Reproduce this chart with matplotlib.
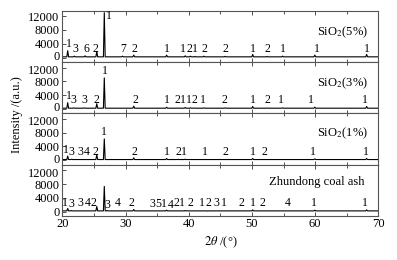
import matplotlib
matplotlib.use("Agg")
import matplotlib.pyplot as plt
import matplotlib.transforms as mtransforms
from matplotlib.ticker import MultipleLocator

plt.rcParams['font.family'] = ['Liberation Serif', 'DejaVu Serif']
plt.rcParams['mathtext.fontset'] = 'stix'

# ---- data (2theta in degrees, intensity in counts) ----
panel_names = ["SiO$_2$(5%)", "SiO$_2$(3%)", "SiO$_2$(1%)", "Zhundong coal ash"]
y_ticks = [0, 4000, 8000, 12000]
y_tick_labels = ["0", "4000", "8000", "12000"]

p1_pos = [20.85, 21.9, 23.6, 25.45, 26.64, 29.5, 31.3, 36.5, 39.45, 40.25, 40.95, 42.4, 45.75, 50.12, 52.4, 54.85, 59.95, 68.15]
p1_int = [2000, 400, 500, 1800, 13000, 400, 700, 700, 500, 400, 300, 400, 350, 900, 300, 400, 700, 900]
p1_lab = ["1", "3", "6", "2", "1", "7", "2", "1", "1", "2", "1", "2", "2", "1", "2", "1", "1", "1"]
p1_lx = [21.05, 22.0, 23.8, 25.3, 27.35, 29.6, 31.4, 36.5, 39.15, 40.05, 40.95, 42.5, 45.8, 50.2, 52.5, 54.9, 60.2, 68.2]
p1_ly = [2200, 700, 700, 700, 10300, 700, 700, 700, 700, 700, 700, 700, 700, 700, 700, 700, 700, 700]

p2_pos = [20.85, 21.8, 23.5, 25.45, 26.64, 31.3, 36.5, 38.3, 39.45, 40.3, 40.9, 42.45, 45.8, 50.12, 52.4, 54.85, 59.95, 68.15]
p2_int = [1800, 300, 300, 1500, 9000, 800, 500, 250, 400, 300, 250, 300, 300, 700, 250, 300, 500, 700]
p2_lab = ["1", "3", "3", "2", "1", "2", "1", "2", "1", "1", "2", "1", "2", "1", "2", "1", "1", "1"]
p2_lx = [21.0, 21.8, 23.5, 25.4, 26.7, 31.5, 36.5, 38.2, 39.15, 40.05, 40.95, 42.2, 45.6, 50.2, 52.5, 54.6, 59.4, 67.8]
p2_ly = [2000, 700, 700, 700, 9200, 700, 700, 700, 700, 700, 700, 700, 700, 700, 700, 700, 700, 700]

p3_pos = [20.85, 21.5, 23.0, 24.0, 25.45, 26.64, 31.3, 36.5, 38.3, 39.45, 42.45, 45.8, 50.12, 52.0, 59.95, 68.15]
p3_int = [1200, 300, 200, 200, 1600, 6200, 700, 500, 250, 300, 200, 200, 500, 200, 400, 500]
p3_lab = ["1", "3", "3", "4", "2", "1", "2", "1", "2", "1", "1", "2", "1", "2", "1", "1"]
p3_lx = [20.6, 21.5, 22.8, 23.85, 25.2, 26.6, 31.4, 36.5, 38.3, 39.25, 42.5, 45.8, 50.1, 52.0, 59.7, 68.0]
p3_ly = [1300, 700, 700, 700, 700, 6500, 700, 700, 700, 700, 700, 700, 700, 700, 700, 700]

p4_pos = [20.85, 21.4, 22.9, 24.0, 25.45, 26.64, 27.1, 28.7, 31.3, 34.3, 35.0, 36.5, 37.1, 38.1, 39.45, 40.3, 42.45, 43.0, 44.3, 45.8, 48.3, 50.12, 51.7, 55.6, 59.95, 68.15]
p4_int = [900, 300, 200, 200, 1500, 7300, 300, 200, 600, 200, 200, 400, 200, 200, 300, 200, 200, 150, 200, 200, 200, 500, 200, 200, 400, 500]
p4_lab = ["1", "3", "3", "4", "2", "3", "4", "2", "3", "5", "1", "4", "2", "1", "2", "1", "2", "3", "1", "2", "1", "2", "4", "1", "1"]
p4_lx = [20.45, 21.4, 22.9, 24.0, 25.0, 27.15, 28.7, 31.0, 34.2, 35.15, 36.0, 37.1, 38.1, 38.95, 40.3, 42.1, 43.05, 44.3, 45.6, 48.3, 50.1, 51.7, 55.6, 59.8, 67.8]
p4_ly = [700, 500, 700, 700, 700, 300, 700, 700, 500, 500, 500, 300, 700, 700, 700, 700, 700, 700, 700, 700, 700, 700, 700, 700, 700]

name_x = [68.4, 68.4, 68.4, 67.8]
name_y = [7400, 7400, 7700, 8700]

panels = [
    (p1_pos, p1_int, p1_lab, p1_lx, p1_ly),
    (p2_pos, p2_int, p2_lab, p2_lx, p2_ly),
    (p3_pos, p3_int, p3_lab, p3_lx, p3_ly),
    (p4_pos, p4_int, p4_lab, p4_lx, p4_ly),
]

BASE = 200
HW = 0.14


def pattern(pos, inten):
    xs = [20.0]
    ys = [BASE]
    for p, h in sorted(zip(pos, inten)):
        xs += [p - HW, p, p + HW]
        ys += [BASE, h, BASE]
    xs.append(70.0)
    ys.append(BASE)
    return xs, ys


fig = plt.figure(figsize=(3.97, 2.60), dpi=100)
fig.subplots_adjust(left=0.157, right=0.953, top=0.959, bottom=0.169, hspace=0)
axes = fig.subplots(4, 1, sharex=True)

for i, (ax, (pos, inten, lab, lx, ly)) in enumerate(zip(axes, panels)):
    xs, ys = pattern(pos, inten)
    ax.plot(xs, ys, color='black', lw=0.8)
    for t, x, y in zip(lab, lx, ly):
        ax.text(x, y, t, ha='center', va='bottom', fontsize=8.5)
    ax.text(name_x[i], name_y[i], panel_names[i], ha='right', va='center', fontsize=9)
    ax.set_xlim(20, 70)
    ax.set_ylim(-1300, 13600)
    ax.set_yticks(y_ticks)
    ax.set_yticklabels([])
    # y tick labels drawn as text so the stacked "0" / "12000" do not collide
    blend = mtransforms.blended_transform_factory(ax.transAxes, ax.transData)
    for v, s in zip(y_ticks, y_tick_labels):
        dy = 0.0
        if v == y_ticks[0] and i < 3:
            dy = 1.4 / 72
        if v == y_ticks[-1] and i > 0:
            dy = -1.4 / 72
        tr = blend + mtransforms.ScaledTranslation(-2.0 / 72, dy, fig.dpi_scale_trans)
        ax.text(0, v, s, transform=tr, ha='right', va='center_baseline', fontsize=9)
    ax.xaxis.set_major_locator(MultipleLocator(10))
    ax.xaxis.set_minor_locator(MultipleLocator(5))
    ax.tick_params(axis='both', which='both', direction='in', top=True, labelsize=9, pad=1.5,
                   width=0.6, color='#333333')
    ax.tick_params(axis='both', which='major', length=3)
    ax.tick_params(axis='both', which='minor', length=2)
    for s in ax.spines.values():
        s.set_linewidth(0.8)
        s.set_color('#555555')

axes[-1].set_xlabel(r"$2\theta$ /(°)", fontsize=9, labelpad=3)
fig.text(0.043, 0.56, "Intensity /(a.u.)", rotation=90, ha='center', va='center', fontsize=9)

fig.savefig("out.png", dpi=100)
